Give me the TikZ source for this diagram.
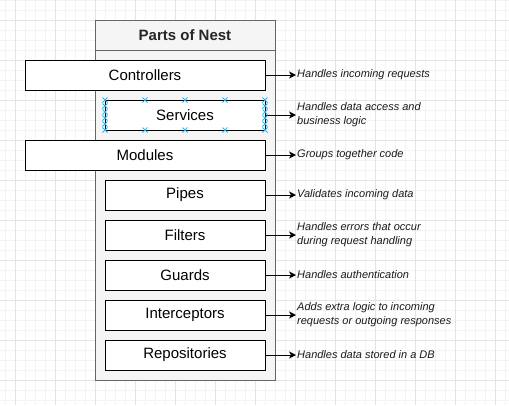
\documentclass[tikz,border=0pt]{standalone}
\usepackage{fontspec}
\setmainfont{Liberation Sans}
\usetikzlibrary{arrows.meta}
\definecolor{gridminor}{HTML}{F3F3F3}
\definecolor{gridmajor}{HTML}{E3E3E3}
\definecolor{contfill}{HTML}{F5F5F5}
\definecolor{contline}{HTML}{666666}
\definecolor{selblue}{RGB}{41,182,242}
\definecolor{labeltext}{HTML}{1A1A1A}
\tikzset{
  container/.style={draw=contline, fill=contfill, line width=1pt, minimum width=180pt, inner sep=0pt},
  header/.style={container, minimum height=30pt, font=\fontsize{15}{18}\selectfont\bfseries, text=black!85},
  partbox/.style={draw=black, fill=white, line width=1pt, minimum height=30pt, inner sep=0pt, font=\fontsize{15}{18}\selectfont},
  widebox/.style={partbox, minimum width=240pt},
  narrowbox/.style={partbox, minimum width=160pt},
  desc/.style={anchor=west, inner sep=0pt, align=left, text=labeltext, font=\fontsize{11}{14}\selectfont\itshape},
  arr/.style={line width=1pt, -{Stealth[length=7pt,width=7pt,inset=2pt]}},
  selmark/.style={draw=selblue, line width=0.8pt}
}
\begin{document}
\begin{tikzpicture}[x=1pt,y=-1pt]
\useasboundingbox (0,0) rectangle (509,405);
\fill[white] (0,0) rectangle (509,405);
% grid
\foreach \gx in {5,15,...,505} \draw[gridminor, line width=0.6pt] (\gx,0) -- (\gx,405);
\foreach \gy in {0,10,...,400} \draw[gridminor, line width=0.6pt] (0,\gy) -- (509,\gy);
\foreach \gx in {15,55,...,495} \draw[gridmajor, line width=0.8pt] (\gx,0) -- (\gx,405);
\foreach \gy in {20,60,...,380} \draw[gridmajor, line width=0.8pt] (0,\gy) -- (509,\gy);
% container
\node[container, minimum height=360pt] (cont) at (185,200) {};
\node[header] (title) at (185,35) {Parts of Nest};
% parts
\node[widebox] (ctrl) at (145,75) {Controllers};
\node[narrowbox] (serv) at (185,115) {Services};
\node[widebox] (mod) at (145,155) {Modules};
\node[narrowbox] (pipe) at (185,195) {Pipes};
\node[narrowbox] (filt) at (185,235) {Filters};
\node[narrowbox] (guard) at (185,275) {Guards};
\node[narrowbox] (inter) at (185,315) {Interceptors};
\node[narrowbox] (repo) at (185,355) {Repositories};
% descriptions
\node[desc] (dctrl) at (297,75) {Handles incoming requests};
\node[desc] (dserv) at (297,115) {Handles data access and\\business logic};
\node[desc] (dmod) at (297,155) {Groups together code};
\node[desc] (dpipe) at (297,195) {Validates incoming data};
\node[desc] (dfilt) at (297,235) {Handles errors that occur\\during request handling};
\node[desc] (dguard) at (297,275) {Handles authentication};
\node[desc] (dinter) at (297,315) {Adds extra logic to incoming\\requests or outgoing responses};
\node[desc] (drepo) at (297,355) {Handles data stored in a DB};
% arrows
\foreach \a/\b in {ctrl/dctrl, serv/dserv, mod/dmod, pipe/dpipe, filt/dfilt, guard/dguard, inter/dinter, repo/drepo}
  \draw[arr] (\a.east) -- ([xshift=-1pt]\a.east -| \b.west);
% selection markers on Services
\foreach \mx in {105,145,185,225,265} {
  \foreach \my in {100,130} {
    \draw[selmark] (\mx-2.5,\my-2.5) -- (\mx+2.5,\my+2.5) (\mx-2.5,\my+2.5) -- (\mx+2.5,\my-2.5);
  }
}
\foreach \mx in {105,265} {
  \foreach \my in {106,112,118,124} {
    \draw[selmark] (\mx-2.5,\my-2.5) -- (\mx+2.5,\my+2.5) (\mx-2.5,\my+2.5) -- (\mx+2.5,\my-2.5);
  }
}
\end{tikzpicture}
\end{document}
